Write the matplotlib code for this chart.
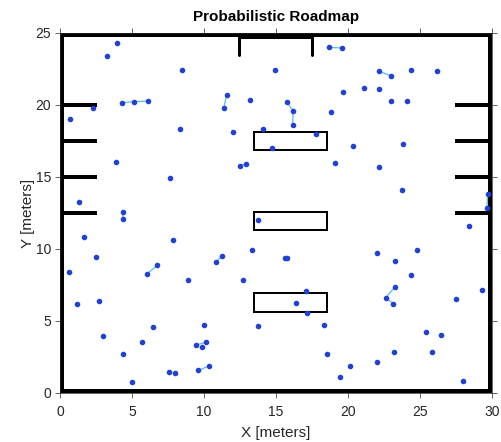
import matplotlib
matplotlib.use("Agg")
import matplotlib.pyplot as plt
from matplotlib.patches import Rectangle
import numpy as np

plt.rcParams['font.family'] = ['Liberation Sans', 'DejaVu Sans']

# Roadmap nodes (x, y in meters)
node_x = [3.94, 3.26, 8.45, 14.93, 4.31, 5.16, 6.09, 2.27, 0.67, 11.57,
          11.36, 13.17, 8.33, 12.01, 14.07, 14.72, 18.66, 19.58, 22.17, 23.00,
          24.40, 26.20, 19.63, 21.13, 22.15, 22.99, 24.12, 15.76, 16.18, 16.16,
          18.84, 17.75, 20.32, 23.80, 3.87, 7.64, 12.52, 12.94, 1.32, 4.35,
          4.38, 13.73, 1.64, 7.85, 2.52, 13.31, 11.23, 10.86, 6.76, 6.02,
          19.12, 22.17, 23.75, 29.70, 29.65, 28.43, 15.63, 15.79, 21.99, 23.29,
          24.77, 0.60, 8.89, 12.71, 1.16, 2.69, 6.44, 10.00, 13.75, 3.01,
          5.69, 9.42, 9.84, 10.14, 4.35, 7.57, 8.01, 9.61, 10.35, 5.00,
          24.40, 17.08, 16.41, 17.15, 23.26, 22.62, 23.15, 27.48, 29.31, 18.33,
          25.39, 26.46, 18.54, 20.16, 22.04, 23.17, 25.81, 19.42, 28.00]
node_y = [24.28, 23.40, 22.40, 22.40, 20.16, 20.23, 20.28, 19.80, 19.05, 20.67,
          19.77, 20.35, 18.30, 18.15, 18.33, 17.04, 24.00, 23.96, 22.33, 22.03,
          22.40, 22.33, 20.92, 21.20, 21.10, 20.30, 20.25, 20.20, 19.60, 18.60,
          19.50, 17.96, 17.15, 17.27, 16.04, 14.93, 15.79, 15.90, 13.26, 12.57,
          12.08, 11.98, 10.83, 10.65, 9.44, 9.93, 9.53, 9.10, 8.86, 8.26,
          16.00, 15.67, 14.07, 13.84, 12.87, 11.62, 9.38, 9.35, 9.75, 9.19,
          9.95, 8.38, 7.85, 7.82, 6.20, 6.39, 4.60, 4.70, 4.65, 3.98,
          3.56, 3.33, 3.17, 3.52, 2.73, 1.43, 1.41, 1.57, 1.88, 0.74,
          8.17, 7.10, 6.22, 5.53, 7.36, 6.62, 6.20, 6.53, 7.15, 4.75,
          4.21, 4.03, 2.71, 1.90, 2.13, 2.85, 2.85, 1.13, 0.85]

# Roadmap connections (pairs of node indices)
edges = [(4, 5), (5, 6), (9, 10), (16, 17), (18, 19), (27, 28), (28, 29),
         (36, 37), (39, 40), (46, 47), (48, 49), (53, 54), (56, 57),
         (71, 73), (77, 78), (84, 85), (85, 86)]

# Occupancy map obstacles
stub_y = [20.0, 17.5, 15.0, 12.5]          # wall stubs on left and right sides
stub_len = 2.55
box_x = (13.5, 18.55)
box_y = [(16.9, 18.15), (11.3, 12.55), (5.63, 6.92)]
gate_x = (12.45, 17.5)                     # bracket hanging from the top wall
gate_bottom = 23.5

map_w, map_h = 30.0, 25.0
x_ticks = [0, 5, 10, 15, 20, 25, 30]
y_ticks = [0, 5, 10, 15, 20, 25]

fig = plt.figure(figsize=(5.01, 4.42), dpi=100)
ax = fig.add_axes([60 / 501, 1 - 393 / 442, 432 / 501, 360 / 442])

wall_kw = dict(color='black', solid_capstyle='butt', zorder=2)
px = 0.72  # one pixel in points

# outer wall
b = 0.14
ax.plot([b, map_w - b, map_w - b, b, b], [b, b, map_h - b, map_h - b, b],
        lw=4 * px, solid_joinstyle='miter', color='black', zorder=2)

# side stubs
for yy in stub_y:
    ax.plot([0, stub_len], [yy, yy], lw=4 * px, **wall_kw)
    ax.plot([map_w - stub_len, map_w], [yy, yy], lw=4 * px, **wall_kw)

# boxes
for (y0, y1) in box_y:
    ax.add_patch(Rectangle((box_x[0], y0), box_x[1] - box_x[0], y1 - y0,
                           fill=False, edgecolor='black', lw=2 * px, zorder=2))

# top bracket
ax.plot([gate_x[0], gate_x[0], gate_x[1], gate_x[1]],
        [gate_bottom, map_h - 0.3, map_h - 0.3, gate_bottom],
        color='black', lw=3 * px, solid_joinstyle='round',
        solid_capstyle='round', zorder=2)

# roadmap edges
for i, j in edges:
    ax.plot([node_x[i], node_x[j]], [node_y[i], node_y[j]],
            color='#55bcef', lw=0.9, zorder=3)

# roadmap nodes
ax.plot(node_x, node_y, linestyle='none', marker='o', markersize=3.0,
        markerfacecolor='#2141d6', markeredgecolor='#2141d6', zorder=4)

ax.set_xlim(0, map_w)
ax.set_ylim(0, map_h)
ax.set_aspect('equal')
ax.set_xticks(x_ticks)
ax.set_yticks(y_ticks)

text_c = '#262626'
ax.tick_params(direction='out', length=3.5, width=0.5, color=text_c,
               labelcolor=text_c, labelsize=10, top=True, right=True)
ax.tick_params(axis='x', pad=5)
ax.tick_params(axis='y', pad=3)
for s in ax.spines.values():
    s.set_color(text_c)
    s.set_linewidth(0.5)

ax.set_xlabel('X [meters]', fontsize=11, color=text_c, labelpad=5)
ax.set_ylabel('Y [meters]', fontsize=11, color=text_c, labelpad=0.5)
ax.set_title('Probabilistic Roadmap', fontsize=11, fontweight='bold',
             color='black', pad=9)

fig.savefig('out.png', dpi=100)
